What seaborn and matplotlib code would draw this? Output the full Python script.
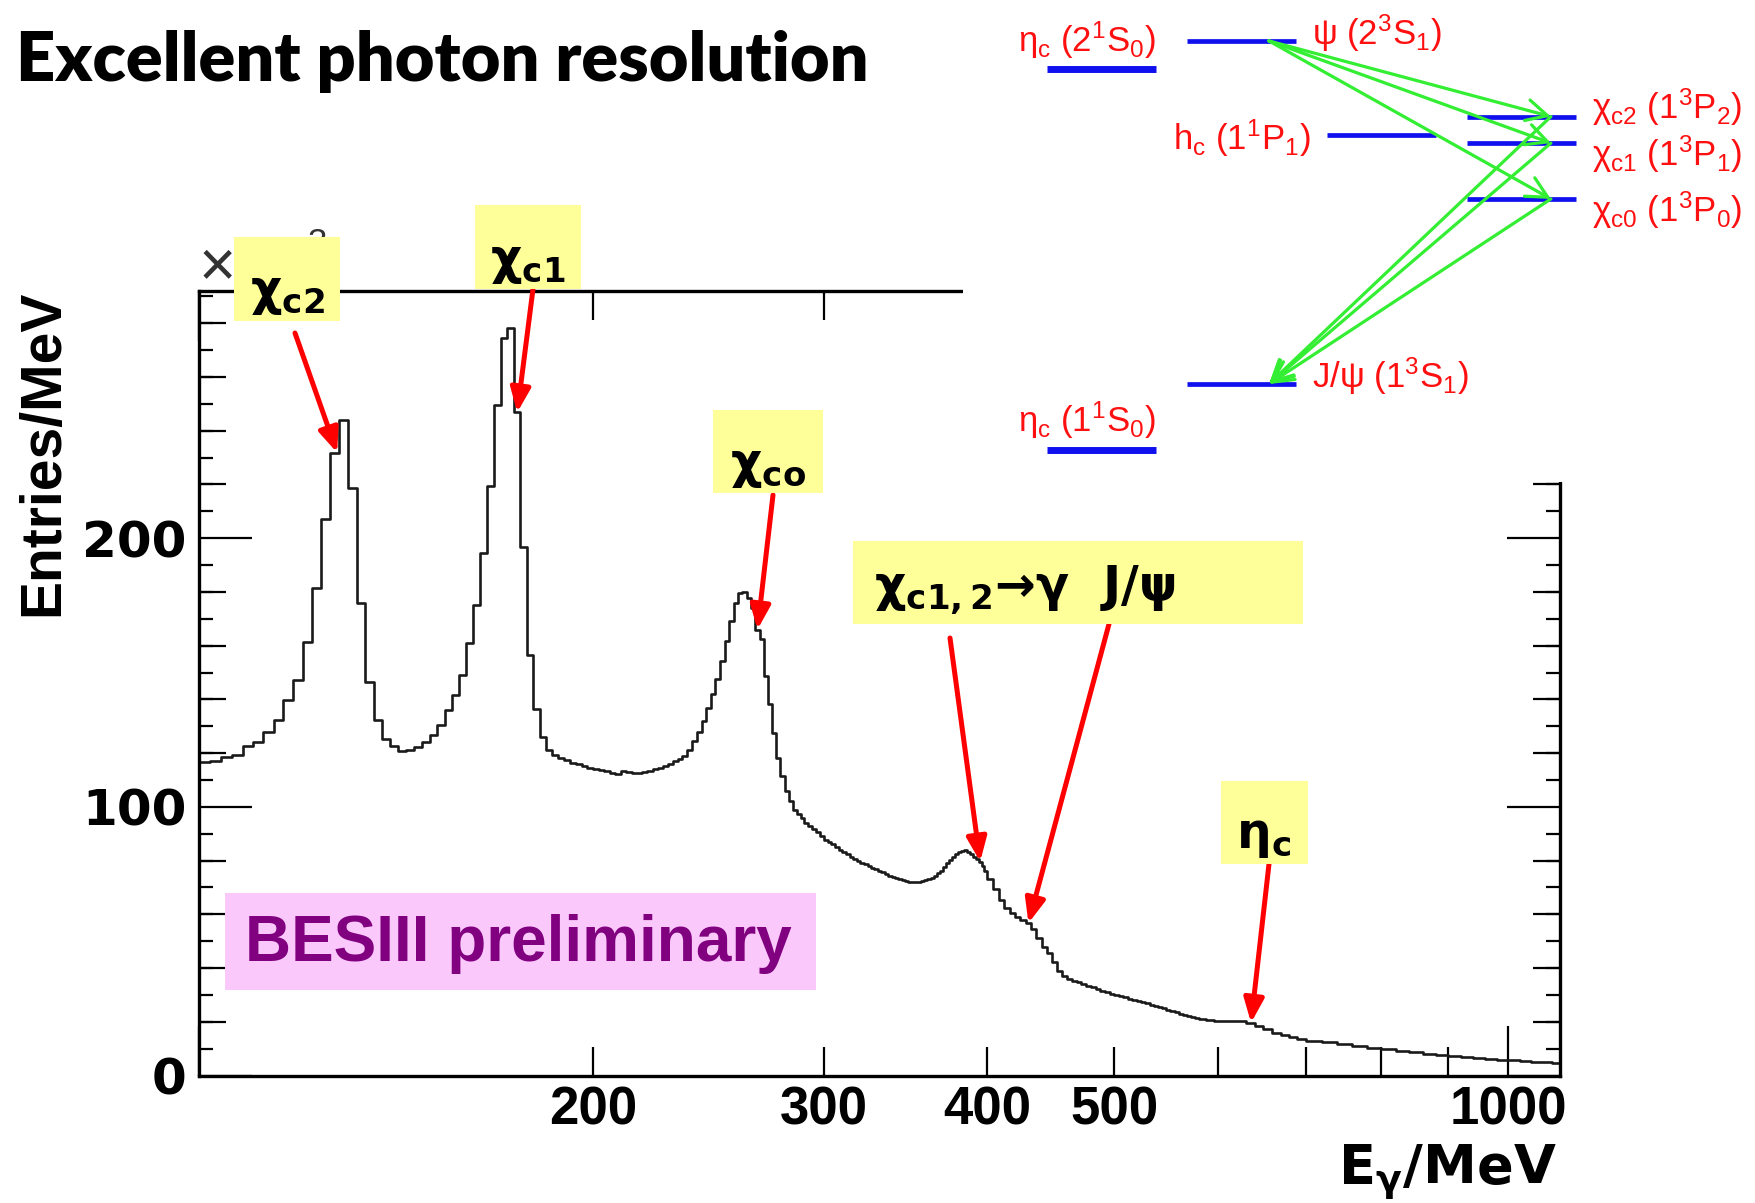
import numpy as np
import pandas as pd
import matplotlib
matplotlib.use("Agg")
import matplotlib.pyplot as plt
import matplotlib.ticker as mticker
from matplotlib import font_manager
from matplotlib.patches import Rectangle
import seaborn as sns

sns.set_style("white")
plt.rcParams["font.family"] = ["Liberation Sans", "DejaVu Sans"]
plt.rcParams["font.weight"] = "bold"
plt.rcParams["mathtext.default"] = "regular"
for key in ("text.color", "axes.labelcolor", "xtick.color", "ytick.color"):
    plt.rcParams[key] = "black"

installed = {f.name for f in font_manager.fontManager.ttflist}
narrow = "Liberation Sans Narrow" in installed

# ---------------- inclusive photon spectrum (entries/MeV, x10^3) ----------------
edges_2mev = np.arange(100, 400, 2)
entries_2mev = [
    116.7, 117.0, 118.4, 119.4, 122.5, 124.1, 127.9, 132.5, 139.7, 147.1,
    161.4, 181.3, 207.2, 231.8, 243.8, 218.5, 175.9, 146.5, 132.5, 125.3,
    122.5, 120.9, 121.3, 122.4, 124.1, 126.9, 130.4, 136.2, 141.8, 149.2,
    161.0, 175.3, 194.3, 219.6, 249.5, 274.6, 278.4, 246.8, 196.6, 156.7,
    136.6, 125.9, 121.3, 119.4, 118.0, 117.6, 116.5, 115.8, 115.3, 114.5,
    114.0, 113.6, 113.3, 112.6, 112.2, 113.4, 112.8, 112.6, 112.7, 113.0,
    113.5, 113.9, 114.5, 115.3, 116.1, 117.0, 117.8, 119.0, 121.3, 124.5,
    128.0, 132.0, 136.7, 142.0, 147.4, 154.2, 161.6, 169.1, 175.9, 179.6,
    180.0, 177.8, 174.0, 166.0, 162.3, 148.6, 138.1, 127.5, 118.2, 111.4,
    105.8, 102.0, 99.0, 97.5, 95.9, 93.8, 92.8, 91.6, 90.8, 89.2,
    87.5, 86.8, 86.0, 85.0, 84.0, 83.2, 82.3, 81.5, 80.6, 79.8,
    79.2, 78.6, 78.0, 77.4, 76.8, 76.2, 75.6, 75.0, 74.4, 73.9,
    73.4, 73.0, 72.7, 72.4, 72.2, 72.0, 71.9, 72.1, 72.4, 72.6,
    73.0, 73.6, 74.2, 75.2, 76.3, 77.7, 79.0, 80.3, 81.5, 82.4,
    83.1, 83.6, 83.8, 83.3, 82.4, 81.4, 80.6, 79.6, 78.0, 76.3,
]
edges_4mev = np.arange(400, 600, 4)
entries_4mev = [
    73.0, 69.5, 65.5, 62.4, 60.4, 59.1, 58.0, 56.7, 54.5, 51.2,
    48.0, 45.5, 42.2, 38.9, 37.0, 35.9, 35.3, 34.7, 34.1, 33.4,
    32.8, 32.2, 31.6, 31.0, 30.5, 30.0, 29.6, 29.1, 28.6, 28.1,
    27.6, 27.2, 26.8, 26.4, 26.0, 25.5, 25.0, 24.5, 24.0, 23.5,
    23.0, 22.6, 22.2, 21.8, 21.5, 21.2, 20.9, 20.7, 20.5, 20.4,
]
edges_10mev = np.arange(600, 700, 10)
entries_10mev = [20.4, 20.3, 20.1, 19.6, 18.4, 17.2, 16.0, 15.0, 14.2, 13.6]
edges_20mev = np.arange(700, 1100, 20)
entries_20mev = [
    13.0, 12.3, 11.7, 11.0, 10.4, 9.8, 9.2, 8.6, 8.0, 7.5,
    7.1, 6.8, 6.5, 6.2, 5.9, 5.6, 5.3, 5.1, 4.9, 4.7,
]
last_edge = 1100

x_major_ticks = [100, 1000]
x_minor_ticks = [200, 300, 400, 500, 600, 700, 800, 900]
x_labeled_ticks = [200, 300, 400, 500, 1000]
y_labeled_ticks = [0, 100, 200]

# peaks marked on the spectrum: label text and photon energy (MeV) the arrow points at
peak_labels = ["χ$_{c2}$", "χ$_{c1}$", "χ$_{co}$", "χ$_{c1,2}$→γ  J/ψ", "η$_c$"]
arrow_energies = [127.5, 175.0, 267.0, 395.0, 430.0, 636.0]

# ---------------- charmonium levels (mass in MeV) ----------------
level_names = ["etac2S", "psi2S", "hc", "chic2", "chic1", "chic0", "jpsi", "etac1S"]
level_masses = [3637.5, 3686.1, 3525.4, 3556.2, 3510.7, 3414.8, 3096.9, 2983.9]
level_columns = [0, 1, 2, 3, 3, 3, 1, 0]
level_texts = [
    "η$_c$ (2$^1$S$_0$)", "ψ (2$^3$S$_1$)", "h$_c$ (1$^1$P$_1$)",
    "χ$_{c2}$ (1$^3$P$_2$)", "χ$_{c1}$ (1$^3$P$_1$)", "χ$_{c0}$ (1$^3$P$_0$)",
    "J/ψ (1$^3$S$_1$)", "η$_c$ (1$^1$S$_0$)",
]
e1_up = [("psi2S", "chic2"), ("psi2S", "chic1"), ("psi2S", "chic0")]
e1_down = [("chic2", "jpsi"), ("chic1", "jpsi"), ("chic0", "jpsi")]

# ---------------- figure ----------------
W, H = 1756, 1203
fig = plt.figure(figsize=(W / 100, H / 100), dpi=100)
fig.patch.set_facecolor("white")


def fxy(px, py):
    return px / W, 1 - py / H


def frect(x0, y0, x1, y1):
    return [x0 / W, 1 - y1 / H, (x1 - x0) / W, (y1 - y0) / H]


ax = fig.add_axes(frect(199, 291, 1560, 1075.5))

bin_edges = np.concatenate([edges_2mev, edges_4mev, edges_10mev, edges_20mev, [last_edge]])
entries = np.concatenate([entries_2mev, entries_4mev, entries_10mev, entries_20mev])
centers = 0.5 * (bin_edges[:-1] + bin_edges[1:])
spectrum = pd.DataFrame({"E": centers, "entries": entries})

sns.histplot(data=spectrum, x="E", weights="entries", bins=[float(b) for b in bin_edges],
             element="step", fill=False, color="#1a1a1a", linewidth=1.9, ax=ax)

ax.set_xscale("log")
ax.set_xlim(100, 1095)
ax.set_ylim(0, 292)
ax.set_xlabel("")
ax.set_ylabel("")

ax.xaxis.set_major_locator(mticker.FixedLocator(x_major_ticks))
ax.xaxis.set_minor_locator(mticker.FixedLocator(x_minor_ticks))
lab = mticker.FuncFormatter(lambda v, p: f"{v:.0f}" if round(v) in x_labeled_ticks else "")
ax.xaxis.set_major_formatter(lab)
ax.xaxis.set_minor_formatter(lab)
ax.yaxis.set_major_locator(mticker.FixedLocator(y_labeled_ticks))
ax.yaxis.set_minor_locator(mticker.MultipleLocator(10))

ax.tick_params(axis="x", which="major", direction="in", length=36, width=1.6,
               top=True, bottom=True, labelsize=38, pad=7)
ax.tick_params(axis="x", which="minor", direction="in", length=21, width=1.6,
               top=True, bottom=True, labelsize=38, pad=7)
ax.tick_params(axis="y", which="major", direction="in", length=38, width=1.6,
               left=True, right=True, labelsize=36, pad=9)
ax.tick_params(axis="y", which="minor", direction="in", length=10, width=1.6,
               left=True, right=True)
for t in ax.get_yticklabels():
    t.set_family("DejaVu Sans")
for s in ax.spines.values():
    s.set_linewidth(2.4)
    s.set_color("black")

# medium ticks every 20 entries on both vertical axes
mid_ticks = [v for v in range(20, 292, 20) if v % 100]
for side in ("left", "right"):
    sec = ax.secondary_yaxis(side)
    sec.set_yticks(mid_ticks)
    sec.tick_params(direction="in", length=19.5, width=1.6,
                    labelleft=False, labelright=False)
    sec.yaxis.set_minor_locator(mticker.NullLocator())
    for s in sec.spines.values():
        s.set_visible(False)

# red arrows from the labels to the spectrum
label_boxes = [(234, 237, 340, 321), (475, 205, 581, 289), (713, 410, 823, 493),
               (853, 541, 1303, 624), (1221, 781, 1308, 864)]
label_centers = [(287, 293), (528, 262), (768, 466), (874, 590), (1264, 836)]
arrow_tails = [(295, 333), (533, 289), (773, 495), (950, 638), (1109, 624), (1269, 864)]
for e, tail in zip(arrow_energies, arrow_tails):
    k = np.searchsorted(bin_edges, e, side="right") - 1
    ax.annotate("", xy=(e, entries[k]), xycoords="data",
                xytext=fxy(*tail), textcoords="figure fraction",
                annotation_clip=False,
                arrowprops=dict(arrowstyle="-|>,head_length=1.45,head_width=0.6",
                                mutation_scale=10, color="#ff0000", lw=3.6,
                                shrinkA=0, shrinkB=0))

for (x0, y0, x1, y1), (cx, cy), text in zip(label_boxes, label_centers, peak_labels):
    fig.add_artist(Rectangle(frect(x0, y0, x1, y1)[:2], (x1 - x0) / W, (y1 - y0) / H,
                             transform=fig.transFigure, facecolor="#ffff99",
                             edgecolor="none", zorder=5))
    fig.text(*fxy(cx, cy), text, ha="left" if "J/ψ" in text else "center",
             va="center", fontsize=35, family="DejaVu Sans", zorder=6)

# BESIII preliminary tag
fig.add_artist(Rectangle(frect(225, 893, 816, 990)[:2], (816 - 225) / W, (990 - 893) / H,
                         transform=fig.transFigure, facecolor="#fbc8fb",
                         edgecolor="none", zorder=5))
fig.text(*fxy(245, 944), "BESIII preliminary", ha="left", va="center",
         fontsize=46, color="#800080", zorder=6)

# axis titles and exponent (the exponent sits mostly under the first label box)
fig.text(*fxy(43, 290), "Entries/MeV", rotation=90, ha="center", va="top", fontsize=41)
fig.text(*fxy(1557, 1184), r"E$_{\gamma}$/MeV", ha="right", va="baseline",
         fontsize=39, family="DejaVu Sans")
fig.text(*fxy(199, 286), "×", ha="left", va="baseline", fontsize=46,
         fontweight="normal", color="#333333", zorder=4)
fig.text(*fxy(308, 253), "3", ha="left", va="baseline", fontsize=25,
         fontweight="normal", color="#333333", zorder=4)

fig.text(*fxy(16, 81), "Excellent photon resolution", ha="left", va="baseline",
         fontsize=49.2, family="Lato", fontweight="heavy", zorder=4)

# ---------------- level scheme (inset) ----------------
lv = fig.add_axes(frect(963, 0, W, 482), zorder=2)
lv.set_facecolor("white")
lv.set_xlim(-0.989, 4.675)
lv.set_ylim(2928.7, 3756.4)
lv.set_xticks([])
lv.set_yticks([])
for s in lv.spines.values():
    s.set_visible(False)

half = 0.39
mass = dict(zip(level_names, level_masses))
col = dict(zip(level_names, level_columns))
thick = {"etac2S": 5.0, "etac1S": 5.0}
for name in level_names:
    lv.hlines(mass[name], col[name] - half, col[name] + half,
              color="#1010ee", lw=thick.get(name, 3.4))

if narrow:
    level_font = dict(family=["Liberation Sans Narrow", "Liberation Sans"], fontsize=30)
else:
    level_font = dict(family=["Liberation Sans", "DejaVu Sans"], fontsize=25)

# label placement: anchor side and offset (points)
label_place = {
    "etac2S": ("above", 0, 21),
    "psi2S": ("right", 11.5, 5.5),
    "hc": ("left", -12, -3),
    "chic2": ("right", 11.5, 7),
    "chic1": ("right", 11.5, -8),
    "chic0": ("right", 11.5, -8.5),
    "jpsi": ("right", 11.5, 5.5),
    "etac1S": ("above", 0, 21),
}
for name, text in zip(level_names, level_texts):
    side, dx, dy = label_place[name]
    if side == "left":
        xy, ha = (col[name] - half, mass[name]), "right"
    elif side == "right":
        xy, ha = (col[name] + half, mass[name]), "left"
    else:
        xy, ha = (col[name] + half, mass[name]), "right"
    lv.annotate(text, xy=xy, xytext=(dx, dy), textcoords="offset points",
                ha=ha, va="center", fontweight="normal", color="#ff1010", **level_font)

for a, b in e1_up + e1_down:
    xa = col[a] + (0.196 if col[a] == 1 else 0.21)
    xb = col[b] + (0.196 if col[b] == 1 else 0.21)
    lv.annotate("", xy=(xb, mass[b]), xytext=(xa, mass[a]),
                arrowprops=dict(arrowstyle="->,head_length=0.75,head_width=0.38",
                                mutation_scale=20, color="#33ee33", lw=2.3,
                                shrinkA=0, shrinkB=0))

fig.savefig("out.png", dpi=100, facecolor="white")
